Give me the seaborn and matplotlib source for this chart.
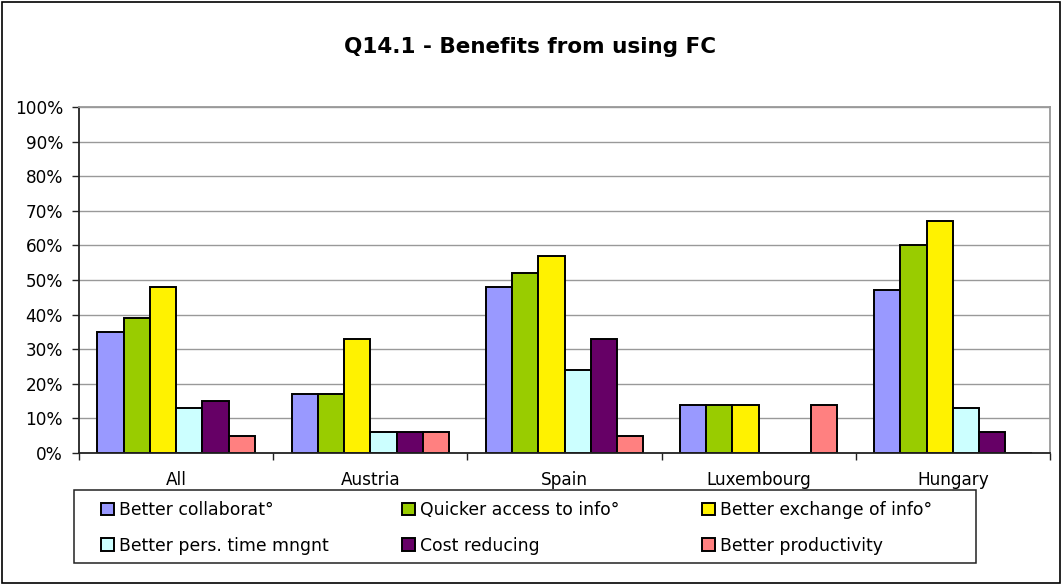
import matplotlib
matplotlib.use("Agg")
import matplotlib.pyplot as plt
from matplotlib.patches import Rectangle
import seaborn as sns
import pandas as pd

# Survey answers: share of respondents (%) per benefit and country
countries = ["All", "Austria", "Spain", "Luxembourg", "Hungary"]
benefits = [
    "Better collaborat°",
    "Quicker access to info°",
    "Better exchange of info°",
    "Better pers. time mngnt",
    "Cost reducing",
    "Better productivity",
]
better_collab = [35, 17, 48, 14, 47]
quicker_access = [39, 17, 52, 14, 60]
better_exchange = [48, 33, 57, 14, 67]
better_time = [13, 6, 24, 0, 13]
cost_reducing = [15, 6, 33, 0, 6]
better_productivity = [5, 6, 5, 14, 0]
y_ticks = [0, 10, 20, 30, 40, 50, 60, 70, 80, 90, 100]

series = [better_collab, quicker_access, better_exchange,
          better_time, cost_reducing, better_productivity]
colors = ["#9999FF", "#99CC00", "#FFF200", "#CCFFFF", "#660066", "#FF8080"]

rows = []
for name, vals in zip(benefits, series):
    for c, v in zip(countries, vals):
        rows.append({"Country": c, "Benefit": name, "Value": v})
df = pd.DataFrame(rows)

sns.set_theme(style="white")
plt.rcParams["font.family"] = ["DejaVu Sans"]

W, H = 1064, 585
fig = plt.figure(figsize=(W / 100, H / 100), dpi=100)
ax = fig.add_axes([79 / W, 1 - 453 / H, (1050 - 79) / W, (453 - 107) / H])

sns.barplot(data=df, x="Country", y="Value", hue="Benefit",
            hue_order=benefits, order=countries, palette=colors,
            width=0.81, edgecolor="black", linewidth=1.4,
            saturation=1, ax=ax, legend=True)

ax.set_ylim(0, 100)
ax.set_xlim(-0.5, len(countries) - 0.5)
ax.set_yticks(y_ticks)
ax.set_yticklabels([f"{t}%" for t in y_ticks], fontsize=12.2, color="black")
ax.yaxis.grid(True, color="#999999", linewidth=1)
ax.set_axisbelow(True)
ax.set_xlabel("")
ax.set_ylabel("")
ax.tick_params(axis="x", length=0, labelsize=12.2, labelcolor="black", pad=13)
ax.tick_params(axis="y", which="major", length=5, width=1, color="#222222",
               direction="out", left=True, pad=6.5)
ax.set_xticks([i + 0.5 for i in range(-1, len(countries))], minor=True)
ax.tick_params(axis="x", which="minor", length=5, width=1, color="#222222",
               bottom=True, direction="out")

for side in ["left", "bottom"]:
    ax.spines[side].set_color("#222222")
    ax.spines[side].set_linewidth(1.3)
for side in ["top", "right"]:
    ax.spines[side].set_visible(True)
    ax.spines[side].set_color("#999999")
    ax.spines[side].set_linewidth(1.3)

# Legend: three columns of two entries, inside one framed box
handles, labels = ax.get_legend_handles_labels()
ax.get_legend().remove()
col_x = [101, 402, 702]
for col, x in enumerate(col_x):
    idx = [col, col + 3]
    fig.legend([handles[i] for i in idx], [labels[i] for i in idx],
               loc="upper left", bbox_to_anchor=(x / W, 1 - 501 / H),
               frameon=False, fontsize=12.4, labelcolor="black",
               handlelength=0.75, handleheight=0.75, handletextpad=0.3,
               borderpad=0, borderaxespad=0, labelspacing=1.03)

fig.patches.append(Rectangle((74 / W, 1 - 563 / H), (976 - 74) / W,
                             (563 - 490) / H, transform=fig.transFigure,
                             fill=False, edgecolor="#222222", linewidth=1.1))

fig.text(530 / W, 1 - 47 / H, "Q14.1 - Benefits from using FC", ha="center",
         va="center", fontsize=15.5, fontweight="bold", color="black")

fig.patches.append(Rectangle((0.0015, 0.004), 0.995, 0.992,
                             transform=fig.transFigure, fill=False,
                             edgecolor="black", linewidth=1.2))

fig.savefig("out.png", dpi=100)
